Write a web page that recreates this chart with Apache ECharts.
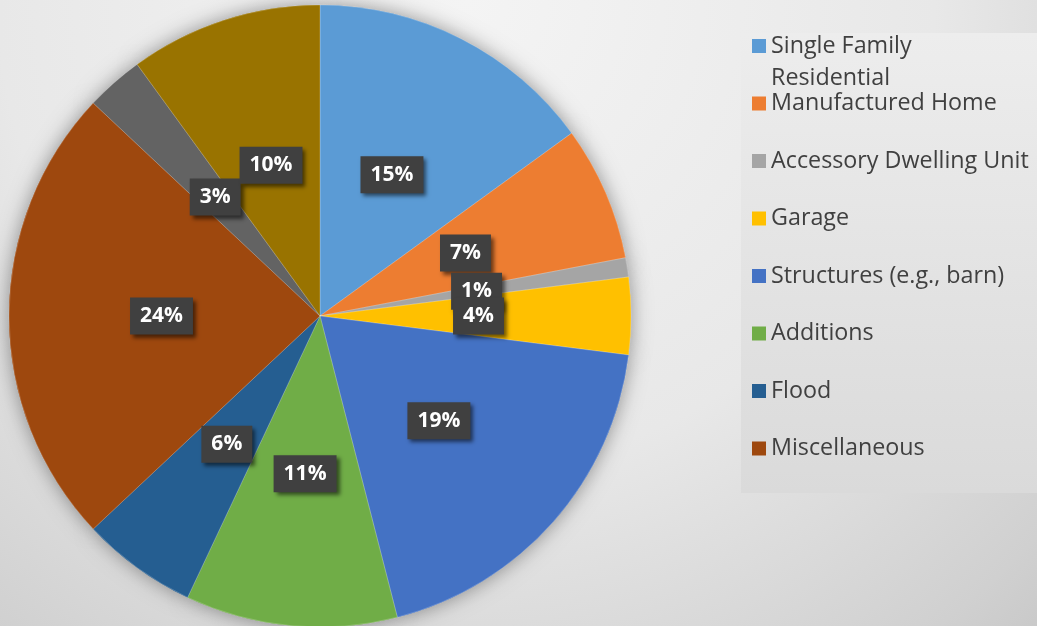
<!DOCTYPE html>
<html>
<head>
<meta charset="utf-8">
<script src="https://cdn.jsdelivr.net/npm/echarts@6/dist/echarts.min.js"></script>
<style>
html,body{margin:0;padding:0;}
#chart{width:1037px;height:626px;}
</style>
</head>
<body>
<div id="chart"></div>
<script>
// ---- data ----
const categories = ['Single Family Residential', 'Manufactured Home', 'Accessory Dwelling Unit', 'Garage',
  'Structures (e.g., barn)', 'Additions', 'Flood', 'Miscellaneous', 'Category 9', 'Category 10'];
const values = [15, 7, 1, 4, 19, 11, 6, 24, 3, 10];
const legendNames = ['Single Family Residential', 'Manufactured Home', 'Accessory Dwelling Unit', 'Garage',
  'Structures (e.g., barn)', 'Additions', 'Flood', 'Miscellaneous'];
const colors = ['#5B9BD5', '#ED7D31', '#A5A5A5', '#FFC000', '#4472C4', '#70AD47', '#255E91', '#9E480E', '#636363', '#997300'];

const pieData = categories.map((n, i) => ({ name: n, value: values[i] }));

const chart = echarts.init(document.getElementById('chart'), null, { renderer: 'canvas' });
const font = '"Open Sans", "Noto Sans", sans-serif';

chart.setOption({
  animation: false,
  color: colors,
  backgroundColor: {
    type: 'radial', x: 0.45, y: 0, r: 1.36,
    colorStops: [
      { offset: 0, color: '#f4f4f4' },
      { offset: 0.55, color: '#e8e8e8' },
      { offset: 0.67, color: '#e0e0e0' },
      { offset: 0.92, color: '#d0d0d0' },
      { offset: 1, color: '#c9c9c9' }
    ]
  },
  graphic: [{
    type: 'rect', z: -10, silent: true,
    shape: { x: 741, y: 33, width: 296, height: 460 },
    style: {
      fill: { type: 'linear', x: 0, y: 0, x2: 0, y2: 1,
        colorStops: [{ offset: 0, color: '#ededed' }, { offset: 1, color: '#dadada' }] }
    }
  }],
  legend: {
    orient: 'vertical',
    left: 752, top: -2,
    padding: 0,
    itemWidth: 14, itemHeight: 14,
    itemGap: -38.5,
    icon: 'rect',
    data: legendNames,
    selectedMode: false,
    formatter: function (name) {
      if (name === 'Single Family Residential') return ' \nSingle Family\nResidential';
      return ' \n' + name + '\n ';
    },
    textStyle: {
      fontFamily: font, fontSize: 23.3, color: '#404040',
      lineHeight: 32
    }
  },
  series: [
    {
      type: 'pie', silent: true, z: 1,
      center: [320, 316], radius: 311,
      startAngle: 90, clockwise: true,
      data: pieData,
      label: { show: false }, labelLine: { show: false },
      itemStyle: { shadowBlur: 20, shadowColor: 'rgba(0,0,0,0.4)', shadowOffsetX: 0, shadowOffsetY: 0 },
      emphasis: { disabled: true }
    },
    {
      type: 'pie', silent: true, z: 2,
      center: [320, 316], radius: 311,
      startAngle: 90, clockwise: true,
      minShowLabelAngle: 0,
      avoidLabelOverlap: false,
      labelLayout: { hideOverlap: false },
      data: pieData,
      itemStyle: { borderColor: 'rgba(255,255,255,0.35)', borderWidth: 0.6 },
      labelLine: { show: false },
      emphasis: { disabled: true },
      label: {
        show: true, position: 'inside',
        formatter: function (p) { return p.value + '%'; },
        fontFamily: font, fontSize: 21, fontWeight: 'bold', color: '#ffffff',
        lineHeight: 24,
        backgroundColor: '#404040',
        padding: [7, 10, 6, 10],
        shadowBlur: 4, shadowColor: 'rgba(0,0,0,0.55)', shadowOffsetX: 3, shadowOffsetY: 3
      }
    }
  ]
});
</script>
</body>
</html>
